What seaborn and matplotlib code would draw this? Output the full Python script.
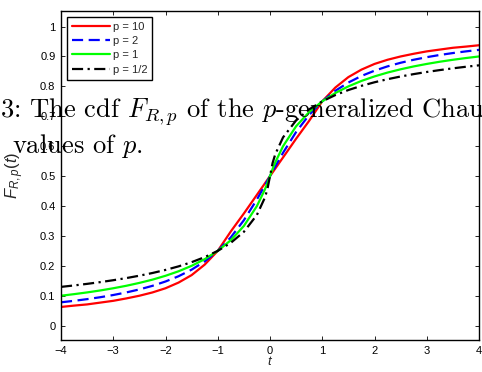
import matplotlib
matplotlib.use("Agg")
import matplotlib.pyplot as plt
import seaborn as sns
import pandas as pd

# ---- data ----
t = [-4, -3.75, -3.5, -3.25, -3, -2.75, -2.5, -2.25, -2, -1.75, -1.5, -1.25, -1,
     -0.75, -0.5, -0.25, -0.1, -0.05, 0, 0.05, 0.1, 0.25, 0.5, 0.75, 1, 1.25, 1.5,
     1.75, 2, 2.25, 2.5, 2.75, 3, 3.25, 3.5, 3.75, 4]

F_p10 = [0.0625, 0.067, 0.071, 0.077, 0.083, 0.091, 0.100, 0.111, 0.125, 0.144, 0.169,
         0.204, 0.25, 0.315, 0.375, 0.4375, 0.475, 0.4875,
         0.5, 0.5125, 0.525, 0.5625, 0.625, 0.685, 0.75, 0.796, 0.831, 0.856, 0.875,
         0.889, 0.900, 0.909, 0.917, 0.923, 0.929, 0.933, 0.9375]

F_p2 = [0.0780, 0.0830, 0.0886, 0.0950, 0.1024, 0.1110, 0.1211, 0.1331, 0.1476, 0.1652,
        0.1872, 0.2148, 0.25, 0.2952, 0.3524, 0.422, 0.4683, 0.4841,
        0.5, 0.5159, 0.5317, 0.578, 0.6476, 0.7048, 0.75, 0.7852, 0.8128, 0.8348, 0.8524,
        0.8669, 0.8789, 0.8890, 0.8976, 0.9050, 0.9114, 0.9170, 0.9220]

F_p1 = [0.1, 0.1053, 0.1111, 0.1176, 0.125, 0.1333, 0.1429, 0.1538, 0.1667, 0.1818, 0.2,
        0.2222, 0.25, 0.2857, 0.3333, 0.4, 0.4545, 0.4762,
        0.5, 0.5238, 0.5455, 0.6, 0.6667, 0.7143, 0.75, 0.7778, 0.8, 0.8182, 0.8333,
        0.8462, 0.8571, 0.8667, 0.875, 0.8824, 0.8889, 0.8947, 0.9]

F_phalf = [0.1296, 0.1344, 0.1397, 0.1455, 0.1519, 0.159, 0.167, 0.176, 0.1863, 0.1982,
           0.2122, 0.2291, 0.25, 0.2769, 0.3137, 0.3704, 0.4273, 0.456,
           0.5, 0.544, 0.5727, 0.6296, 0.6863, 0.7231, 0.75, 0.7709, 0.7878, 0.8018,
           0.8137, 0.824, 0.833, 0.841, 0.8481, 0.8545, 0.8603, 0.8656, 0.8704]

labels = ["p = 10", "p = 2", "p = 1", "p = 1/2"]
xticks = [-4, -3, -2, -1, 0, 1, 2, 3, 4]
yticks = [0, 0.1, 0.2, 0.3, 0.4, 0.5, 0.6, 0.7, 0.8, 0.9, 1]
ytick_labels = ["0", "0.1", "0.2", "0.3", "0.4", "0.5", "0.6", "0.7", "0.8", "0.9", "1"]

df = pd.DataFrame({"t": t, labels[0]: F_p10, labels[1]: F_p2,
                   labels[2]: F_p1, labels[3]: F_phalf})

sns.set_style("ticks")
plt.rcParams["font.family"] = ["Liberation Sans", "DejaVu Sans"]
plt.rcParams["mathtext.fontset"] = "custom"
plt.rcParams["mathtext.rm"] = "Liberation Sans"
plt.rcParams["mathtext.it"] = "Liberation Sans:italic"
plt.rcParams["mathtext.bf"] = "Liberation Sans:bold"

fig = plt.figure(figsize=(4.82, 3.72), dpi=100)
ax = fig.add_axes([61 / 482, 32 / 372, 418 / 482, 329 / 372])

styles = [
    (labels[0], "#ff0000", None),
    (labels[1], "#0000ff", (5.0, 2.5)),
    (labels[2], "#00ff00", None),
    (labels[3], "#000000", (5.0, 2.0, 1.0, 2.0)),
]
for name, col, dash in styles:
    sns.lineplot(data=df, x="t", y=name, color=col, linewidth=1.6, ax=ax,
                 label=name, estimator=None, sort=False)
    ln = ax.lines[-1]
    if dash is not None:
        ln.set_dashes(dash)

ax.set_xlim(-4, 4)
ax.set_ylim(-0.048, 1.052)
ax.set_xticks(xticks)
ax.set_xticklabels([str(v) if v >= 0 else "\u2212" + str(-v) for v in xticks])
ax.set_yticks(yticks)
ax.set_yticklabels(ytick_labels)
ax.tick_params(direction="in", length=3, width=0.6, top=True, right=True,
               labelsize=8, colors="black", pad=4)
for s in ax.spines.values():
    s.set_linewidth(1.0)
    s.set_color("black")
    s.set_visible(True)

ax.set_xlabel(r"$t$", fontsize=9.5)
ax.set_ylabel(r"$F_{R,p}(t)$", fontsize=12)
ax.xaxis.set_label_coords(0.5, -0.045)
ax.yaxis.set_label_coords(-0.083, 0.5)

leg = ax.legend(loc="upper left", bbox_to_anchor=(0.0144, 0.982), borderaxespad=0,
                fontsize=8, frameon=True, fancybox=False, handlelength=3.4,
                handletextpad=0.25, labelspacing=0.38, borderpad=0.45)
leg.get_frame().set_edgecolor("black")
leg.get_frame().set_linewidth(1.0)
leg.get_frame().set_alpha(1)

# overlapping caption text from the source document (clipped by the figure edge)
fig.text(0.0, (372 - 117) / 372,
         r"3: The cdf $F_{R,p}$ of the $p$-generalized Chauchy distribution",
         fontsize=19.1, family="cmr10", math_fontfamily="cm", va="baseline", ha="left",
         color="black", zorder=10)
fig.text(12 / 482, (372 - 153) / 372, r"values of $p$.",
         fontsize=19.1, family="cmr10", math_fontfamily="cm", va="baseline", ha="left",
         color="black", zorder=10)

fig.savefig("out.png", dpi=100)
